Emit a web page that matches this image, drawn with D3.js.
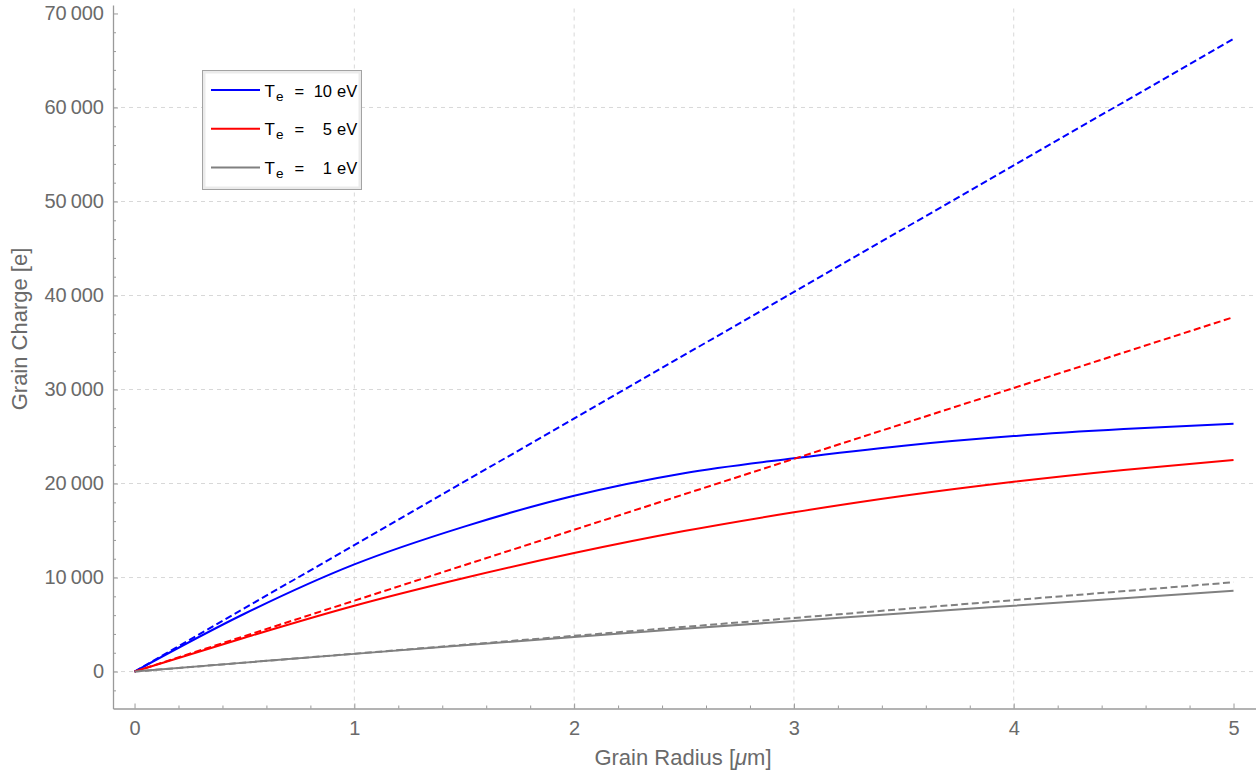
<!DOCTYPE html>
<html>
<head>
<meta charset="utf-8">
<script src="https://cdn.jsdelivr.net/npm/d3@7"></script>
<style>
  html, body { margin: 0; padding: 0; background: #fff; }
  svg { display: block; font-family: "Liberation Sans", Arial, Helvetica, sans-serif; }
</style>
</head>
<body>
<svg id="chart" width="1257" height="775"></svg>
<script>
// Grain radius samples (µm)
const radius = [0, 0.5, 1, 1.5, 2, 2.5, 3, 3.5, 4, 4.5, 5];
// Grain charge (e) for each electron temperature
const charge10 = [0, 6150, 11400, 15420, 18700, 21100, 22680, 24030, 25050, 25800, 26360];
const charge5  = [0, 3600, 7000, 9950, 12600, 14940, 16940, 18700, 20190, 21450, 22500];
const charge1  = [0, 950, 1880, 2790, 3680, 4540, 5380, 6200, 7000, 7800, 8600];
// Small-grain (linear) limit, end points
const linRadius = [0, 5];
const linear10 = [0, 67300];
const linear5  = [0, 37700];
const linear1  = [0, 9500];

const xTicks = [0, 1, 2, 3, 4, 5];
const yTicks = [0, 10000, 20000, 30000, 40000, 50000, 60000, 70000];
const xGrid = [1, 2, 3, 4];
const yGrid = [0, 10000, 20000, 30000, 40000, 50000, 60000];
const legendLabels = ["10", "5", "1"];

const svg = d3.select("#chart");

const x = d3.scaleLinear().domain([-0.098, 5.1]).range([113, 1255.5]);
const y = d3.scaleLinear().domain([-3930, 70900]).range([708.5, 5]);

const axisColor = "#9a9a9a";
const textColor = "#6a6a6a";

// grid
const grid = svg.append("g");
grid.selectAll("line.gx").data(xGrid).join("line")
  .attr("x1", d => x(d)).attr("x2", d => x(d))
  .attr("y1", y.range()[0]).attr("y2", y.range()[1])
  .attr("stroke", "#d8d8d8").attr("stroke-width", 1).attr("stroke-dasharray", "4,4");
grid.selectAll("line.gy").data(yGrid).join("line")
  .attr("x1", x.range()[0]).attr("x2", 1257)
  .attr("y1", d => y(d)).attr("y2", d => y(d))
  .attr("stroke", "#d8d8d8").attr("stroke-width", 1).attr("stroke-dasharray", "4,4");

// axes
const loc = d3.formatLocale({ decimal: ".", thousands: "\u2009", grouping: [3], currency: ["", ""] });
const fmt = loc.format(",");

const xMinor = d3.range(0, 5.01, 0.2).map(v => +v.toFixed(2)).filter(v => !xTicks.includes(v));
const yMinor = d3.range(-2000, 70001, 2000).filter(v => v % 10000 !== 0);

function styleAxis(g) {
  g.select(".domain").attr("stroke", axisColor).attr("stroke-width", 1.3);
  g.selectAll(".tick line").attr("stroke", axisColor);
  g.selectAll(".tick text").attr("fill", textColor).attr("font-size", 20);
}

svg.append("g").attr("transform", `translate(0,${y.range()[0]})`)
  .call(d3.axisBottom(x).tickValues(xTicks).tickFormat(d3.format("d")).tickSize(-5).tickSizeOuter(0).tickPadding(12))
  .call(styleAxis);
svg.append("g").attr("transform", `translate(0,${y.range()[0]})`)
  .call(d3.axisBottom(x).tickValues(xMinor).tickFormat("").tickSize(-3).tickSizeOuter(0))
  .call(g => g.select(".domain").remove())
  .call(g => g.selectAll(".tick line").attr("stroke", axisColor));

svg.append("g").attr("transform", `translate(${x.range()[0]},0)`)
  .call(d3.axisLeft(y).tickValues(yTicks).tickFormat(fmt).tickSize(-5).tickSizeOuter(0).tickPadding(9))
  .call(styleAxis);
svg.append("g").attr("transform", `translate(${x.range()[0]},0)`)
  .call(d3.axisLeft(y).tickValues(yMinor).tickFormat("").tickSize(-3).tickSizeOuter(0))
  .call(g => g.select(".domain").remove())
  .call(g => g.selectAll(".tick line").attr("stroke", axisColor));

// axis titles
const xt = svg.append("text").attr("x", 683).attr("y", 765)
  .attr("text-anchor", "middle").attr("fill", textColor).attr("font-size", 22);
xt.append("tspan").text("Grain Radius [");
xt.append("tspan").attr("font-style", "italic").text("\u03bc");
xt.append("tspan").text("m]");

svg.append("text").attr("transform", "translate(27,329) rotate(-90)")
  .attr("text-anchor", "middle").attr("fill", textColor).attr("font-size", 22)
  .text("Grain Charge [e]");

// curves
const line = d3.line().x(d => x(d[0])).y(d => y(d[1])).curve(d3.curveMonotoneX);
const series = [
  { r: radius, q: charge10, color: "#0000ff", dash: null },
  { r: radius, q: charge5,  color: "#ff0000", dash: null },
  { r: radius, q: charge1,  color: "#808080", dash: null },
  { r: linRadius, q: linear10, color: "#0000ff", dash: "7,3.5" },
  { r: linRadius, q: linear5,  color: "#ff0000", dash: "7,3.5" },
  { r: linRadius, q: linear1,  color: "#808080", dash: "7,3.5" }
];
svg.append("g").selectAll("path").data(series).join("path")
  .attr("d", s => line(s.r.map((r, i) => [r, s.q[i]])))
  .attr("fill", "none")
  .attr("stroke", s => s.color)
  .attr("stroke-width", 2)
  .attr("stroke-dasharray", s => s.dash);

// legend
const lg = svg.append("g");
lg.append("rect").attr("x", 202.5).attr("y", 70.5).attr("width", 159).attr("height", 119)
  .attr("fill", "#ebebeb").attr("stroke", "#a3a3a3").attr("stroke-width", 1);
lg.append("rect").attr("x", 205.5).attr("y", 73.5).attr("width", 153).attr("height", 113)
  .attr("fill", "#fff");
const legendColors = ["#0000ff", "#ff0000", "#808080"];
legendLabels.forEach((lab, i) => {
  const cy = 90 + i * 38.7;
  const base = cy + 6.5;
  lg.append("line").attr("x1", 211).attr("x2", 260).attr("y1", cy).attr("y2", cy)
    .attr("stroke", legendColors[i]).attr("stroke-width", 2);
  lg.append("text").attr("x", 264.5).attr("y", base).attr("font-size", 17).text("T");
  lg.append("text").attr("x", 276).attr("y", base + 4).attr("font-size", 13.5).text("e");
  lg.append("text").attr("x", 294.5).attr("y", base).attr("font-size", 16.5).text("=");
  lg.append("text").attr("x", 332).attr("y", base).attr("font-size", 16.5).attr("text-anchor", "end").text(lab);
  lg.append("text").attr("x", 337).attr("y", base).attr("font-size", 16.5).text("eV");
});
</script>
</body>
</html>
